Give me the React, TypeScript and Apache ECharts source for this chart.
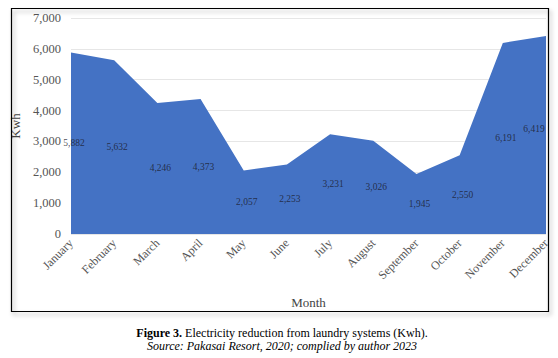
import React, { useEffect, useRef } from "react";
import * as echarts from "echarts";

const months = ["January","February","March","April","May","June","July","August","September","October","November","December"];
const values = [5882, 5632, 4246, 4373, 2057, 2253, 3231, 3026, 1945, 2550, 6191, 6419];
const yTicks = [0, 1000, 2000, 3000, 4000, 5000, 6000, 7000];

const SERIF = "'Liberation Serif', 'DejaVu Serif', serif";

export default function App() {
  const ref = useRef<HTMLDivElement>(null);
  useEffect(() => {
    if (!ref.current) return;
    const chart = echarts.init(ref.current, undefined, { renderer: "svg" });
    const labelData = values.map((v, i) =>
      i === values.length - 1
        ? { value: v / 2, label: { offset: [-12, -6] } }
        : { value: v / 2 }
    );
    chart.setOption({
      animation: false,
      backgroundColor: "#ffffff",
      grid: { left: 71, right: 12, top: 18, bottom: 124, containLabel: false },
      xAxis: {
        type: "category",
        data: months,
        boundaryGap: false,
        name: "Month",
        nameLocation: "middle",
        nameGap: 62,
        nameTextStyle: { fontFamily: SERIF, fontSize: 13, color: "#444" },
        axisLine: { show: false },
        axisTick: { show: false },
        axisLabel: { rotate: 45, fontFamily: SERIF, fontSize: 12, color: "#555", margin: 7 },
        splitLine: { show: false },
      },
      yAxis: {
        type: "value",
        min: yTicks[0],
        max: yTicks[yTicks.length - 1],
        interval: 1000,
        name: "Kwh",
        nameLocation: "middle",
        nameGap: 48,
        nameTextStyle: { fontFamily: SERIF, fontSize: 13, color: "#444" },
        axisLine: { show: false },
        axisTick: { show: false },
        axisLabel: {
          fontFamily: SERIF, fontSize: 12.5, color: "#555", margin: 10,
          formatter: (v: number) => v.toLocaleString("en-US"),
        },
        splitLine: { lineStyle: { color: "#e6e6e6", width: 1 } },
      },
      series: [
        {
          type: "line",
          data: values,
          symbol: "none",
          lineStyle: { width: 0, color: "#4472C4" },
          areaStyle: { color: "#4472C4", opacity: 1 },
          z: 2,
        },
        {
          type: "scatter",
          data: labelData,
          symbolSize: 0,
          silent: true,
          z: 3,
          label: {
            show: true,
            position: "inside",
            fontFamily: SERIF,
            fontSize: 9.5,
            color: "#1b1b2a",
            offset: [3, 0],
            formatter: (p: any) => values[p.dataIndex].toLocaleString("en-US"),
          },
        },
      ],
      graphic: [
        {
          type: "rect",
          shape: { x: 11.5, y: 8.5, width: 537, height: 303 },
          style: { fill: "none", stroke: "#000", lineWidth: 1.2, shadowBlur: 4, shadowColor: "rgba(0,0,0,0.35)", shadowOffsetX: 2, shadowOffsetY: 3 },
          z: 100,
          silent: true,
        },
        {
          type: "text",
          x: 282,
          y: 333,
          style: {
            text: "{b|Figure 3.} Electricity reduction from laundry systems (Kwh).",
            align: "center",
            verticalAlign: "middle",
            fontFamily: SERIF,
            fontSize: 12,
            fill: "#000",
            rich: { b: { fontWeight: "bold", fontFamily: SERIF, fontSize: 12 } },
          },
        },
        {
          type: "text",
          x: 282,
          y: 346,
          style: {
            text: "Source: Pakasai Resort, 2020; complied by author 2023",
            align: "center",
            verticalAlign: "middle",
            fontFamily: SERIF,
            fontSize: 12,
            fontStyle: "italic",
            fill: "#000",
          },
        },
      ],
    });
    return () => chart.dispose();
  }, []);
  return <div ref={ref} style={{ position: "fixed", left: 0, top: 0, width: 558, height: 358 }} />;
}
